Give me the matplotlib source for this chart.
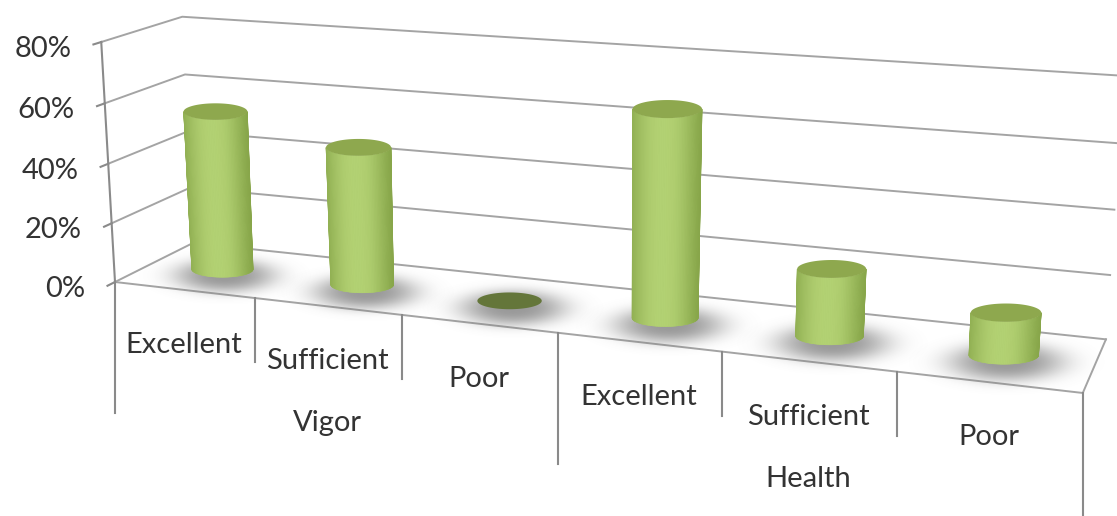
import numpy as np
import matplotlib.pyplot as plt
from matplotlib.collections import PolyCollection

groups = ['Vigor', 'Health']
levels = ['Excellent', 'Sufficient', 'Poor']
vigor = [54, 46, 0]
health = [66, 21, 13]
ticks = [0, 20, 40, 60, 80]

values = vigor + health
labels = levels * len(groups)
n = len(values)
zmax = ticks[-1]

# perspective of the chart box: (category, depth 0..1, percent) -> pixels
view = np.array([
    [132.93, 90.37, -0.20825, 115.0],
    [8.2, -23.46, -3.015, 282.0],
    [-0.0262, 0.06409, -0.00035875, 1.0],
])


def project(x, y, z):
    x, y, z = np.broadcast_arrays(np.asarray(x, float), np.asarray(y, float),
                                  np.asarray(z, float))
    h = view @ np.stack([x.ravel(), y.ravel(), z.ravel(), np.ones(x.size)])
    return (h[0] / h[2]).reshape(x.shape), (h[1] / h[2]).reshape(x.shape)


grid_c = '#a4a4a4'
axis_c = '#8a8a8a'
text_kw = dict(fontfamily='Lato', fontsize=21, color='#333333')

light = np.array([0.70, 0.82, 0.45])
dark = np.array([0.48, 0.60, 0.24])
top_c = '#8ea84e'
zero_c = '#64763a'
radius = 10.7      # cylinder radius, in percent units
flat = 0.26        # ellipse height / width

fig = plt.figure(figsize=(11.17, 5.16), dpi=100)
ax = fig.add_axes([0, 0, 1, 1])
ax.axis('off')

# left wall and back wall gridlines
for z in ticks:
    u, v = project([0, 0, n], [0, 1, 1], z)
    ax.plot(u, v, color=grid_c, lw=1.4, zorder=1)

# floor front and right edges
u, v = project([0, n, n], [0, 0, 1], 0)
ax.plot(u, v, color=grid_c, lw=1.4, zorder=1)

# value axis with ticks and labels
u, v = project(0, 0, [0, zmax])
ax.plot(u, v, color=axis_c, lw=1.5, zorder=1)
for z in ticks:
    u, v = project(0, [-0.09, 0], z)
    ax.plot(u, v, color=axis_c, lw=1.5, zorder=1)
    ax.text(u[1] - 30, v[1] + 15, f'{z}%', ha='right', va='baseline', **text_kw)

# category dividers below the floor
for k in range(n + 1):
    u, v = project(k, 0, 0)
    drop = 131 if k % len(levels) == 0 else 64
    ax.plot([u, u], [v, v + drop], color=axis_c, lw=1.5, zorder=1)

for i, lab in enumerate(labels):
    u, v = project(i + 0.5, 0, 0)
    ax.text(u, v + 63, lab, ha='center', va='baseline', **text_kw)

for g, name in enumerate(groups):
    u, v = project(g * len(levels) + len(levels) / 2, 0, 0)
    ax.text(u, v + 125, name, ha='center', va='baseline', **text_kw)


def half_width(x, z):
    u0, v0 = project(x, 0.5, z)
    u1, v1 = project(x, 0.5, z + 1)
    return radius * np.hypot(u1 - u0, v1 - v0)


def shadow(cu, cv, sx, sy):
    # soft grey blot on the floor
    gx = np.linspace(-1.5, 1.5, 180)
    gy = np.linspace(-1.5, 1.5, 80)
    X, Y = np.meshgrid(gx, gy)
    r2 = X ** 2 + Y ** 2
    img = np.zeros(X.shape + (4,))
    img[..., :3] = 0.45
    img[..., 3] = 0.72 * np.exp(-2.3 * r2 ** 1.5)
    ax.imshow(img, extent=(cu - 1.5 * sx, cu + 1.5 * sx, cv + 1.5 * sy, cv - 1.5 * sy),
              origin='upper', aspect='auto', interpolation='bilinear', zorder=2)


def side_colour(t):
    w = np.exp(-np.abs((t + 0.1) / 0.95) ** 2.5)
    return dark + (light - dark) * w


phi = np.linspace(0, np.pi, 61)
ring = np.linspace(0, 2 * np.pi, 121)

for i, val in enumerate(values):
    x = i + 0.5
    bu, bv = project(x, 0.5, 0)
    tu, tv = project(x, 0.5, val)
    ab, at = half_width(x, 0), half_width(x, val)
    bb, bt = flat * ab, flat * at

    shadow(bu + 3, bv + 7, 2.15 * ab, 0.72 * ab)

    if val > 0:
        lu, lv = bu - ab * np.cos(phi), bv + bb * np.sin(phi)
        hu, hv = tu - at * np.cos(phi), tv + bt * np.sin(phi)
        # solid body first so the shaded strips leave no seams
        ax.fill(np.r_[lu, hu[::-1]], np.r_[lv, hv[::-1]],
                color=side_colour(0.3), lw=0, zorder=3)
        strips, cols = [], []
        for k in range(len(phi) - 1):
            strips.append([(lu[k], lv[k]), (lu[k + 1], lv[k + 1]),
                           (hu[k + 1], hv[k + 1]), (hu[k], hv[k])])
            cols.append(side_colour(-np.cos((phi[k] + phi[k + 1]) / 2)))
        ax.add_collection(PolyCollection(strips, facecolors=cols, edgecolors=cols,
                                         linewidths=0.4, zorder=3))

    ax.fill(tu + at * np.cos(ring), tv + bt * np.sin(ring),
            color=top_c if val > 0 else zero_c, lw=0, zorder=4)

ax.set_xlim(0, 1117)
ax.set_ylim(516, 0)
fig.savefig('out.png', dpi=100)
